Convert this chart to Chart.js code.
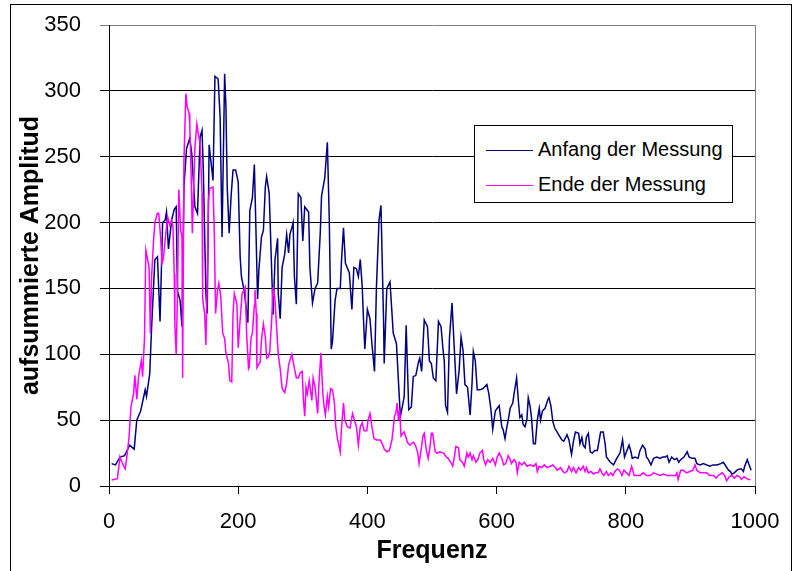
<!DOCTYPE html>
<html>
<head>
<meta charset="utf-8">
<script src="https://cdn.jsdelivr.net/npm/chart.js@4.4.1/dist/chart.umd.min.js"></script>
<style>
  body { margin: 0; background: #fff; }
  #wrap { position: relative; width: 794px; height: 571px; overflow: hidden; }
  #frame { position: absolute; left: 10px; top: 4px; width: 780px; height: 600px; border: 1px solid #000; }
  #chart { position: absolute; left: 0; top: 0; }
  #legend {
    position: absolute; left: 474px; top: 125px; width: 257px; height: 76px;
    border: 1px solid #000; background: #fff;
    font-family: "Liberation Sans", Arial, sans-serif; font-size: 20px; color: #000;
  }
  .row { position: absolute; left: 11px; height: 24px; line-height: 24px; white-space: nowrap; }
  .row span.line { display: inline-block; width: 47px; height: 0; vertical-align: middle; margin-right: 5px; }
</style>
</head>
<body>
<div id="wrap">
  <div id="frame"></div>
  <canvas id="chart" width="794" height="571"></canvas>
  <div id="legend">
    <div class="row" style="top: 11px;"><span class="line" style="border-top: 1.5px solid #000080;"></span>Anfang der Messung</div>
    <div class="row" style="top: 46px;"><span class="line" style="border-top: 1.5px solid #ff00ff;"></span>Ende der Messung</div>
  </div>
</div>
<script>
// Frequenz / Amplitude
const anfangFreq = [4, 10, 17, 24, 32, 39, 43, 49, 56, 58, 63, 66, 71, 75, 79, 83, 87, 89, 92, 97,
  101, 104, 106, 110, 113, 116, 120, 125, 128, 133, 137, 141, 144, 146, 150, 152, 155, 157, 161, 164,
  169, 172, 175, 179, 181, 183, 186, 189, 192, 196, 200, 203, 205, 209, 215, 218, 222, 225, 228, 230,
  232, 236, 239, 242, 244, 248, 252, 254, 257, 261, 262, 265, 268, 272, 275, 278, 280, 283, 285, 287,
  290, 293, 297, 300, 303, 309, 311, 315, 319, 323, 327, 329, 334, 338, 341, 344, 346, 350, 353, 358,
  360, 363, 366, 372, 376, 379, 383, 386, 389, 392, 394, 396, 400, 404, 407, 411, 414, 418, 421, 425,
  426, 430, 435, 440, 445, 448, 451, 454, 457, 460, 462, 464, 468, 471, 475, 479, 481, 484, 488, 493,
  496, 499, 502, 506, 510, 514, 517, 519, 521, 524, 527, 531, 533, 536, 538, 542, 545, 548, 551, 555,
  559, 562, 564, 567, 570, 574, 579, 585, 588, 591, 594, 598, 601, 604, 608, 610, 613, 616, 618, 621,
  625, 627, 631, 634, 636, 639, 641, 644, 647, 649, 652, 654, 657, 660, 663, 666, 668, 671, 675, 679,
  681, 684, 687, 690, 696, 701, 704, 709, 712, 716, 719, 722, 727, 729, 732, 734, 737, 739, 742, 745,
  748, 752, 756, 761, 765, 768, 770, 776, 781, 786, 791, 795, 798, 801, 805, 808, 810, 814, 819, 822,
  826, 830, 832, 835, 839, 843, 848, 853, 857, 861, 864, 867, 871, 875, 879, 882, 885, 890, 895, 898,
  902, 907, 910, 915, 920, 925, 930, 935, 941, 947, 951, 955, 959, 962, 964, 968, 972, 976, 979, 982,
  984, 988, 991, 994];
const anfangAmp = [17, 16, 22, 23, 31, 28, 50, 57, 73, 68, 85, 121, 172, 174, 125, 200, 202, 208, 180, 202,
  210, 212, 148, 141, 121, 227, 256, 264, 253, 212, 207, 265, 270, 240, 146, 131, 259, 250, 232, 311,
  309, 280, 189, 313, 288, 227, 192, 220, 240, 240, 231, 174, 159, 149, 124, 209, 219, 244, 184, 142,
  164, 189, 194, 227, 235, 222, 161, 130, 172, 188, 146, 127, 166, 176, 191, 177, 191, 196, 200, 159,
  138, 222, 219, 186, 212, 208, 166, 139, 150, 154, 192, 220, 234, 261, 202, 104, 110, 141, 150, 150,
  172, 196, 169, 162, 134, 166, 165, 159, 172, 151, 126, 104, 134, 127, 108, 87, 151, 202, 213, 126,
  93, 150, 155, 116, 108, 80, 53, 60, 68, 122, 90, 58, 60, 83, 84, 94, 97, 87, 126, 121,
  95, 93, 82, 80, 125, 121, 104, 95, 61, 56, 112, 139, 119, 90, 70, 88, 113, 103, 77, 75,
  54, 78, 102, 95, 73, 73, 74, 77, 70, 59, 43, 57, 59, 61, 45, 43, 36, 45, 50, 59,
  63, 70, 82, 63, 52, 54, 47, 45, 51, 67, 60, 52, 32, 32, 50, 59, 50, 57, 59, 65,
  67, 61, 49, 44, 39, 35, 34, 39, 35, 24, 34, 41, 40, 32, 37, 31, 29, 37, 40, 26,
  25, 27, 27, 41, 41, 32, 22, 18, 16, 21, 25, 35, 22, 26, 31, 26, 21, 22, 21, 27,
  31, 28, 22, 20, 16, 21, 22, 21, 22, 22, 23, 18, 22, 20, 21, 18, 20, 22, 26, 22,
  21, 21, 17, 16, 17, 16, 15, 16, 16, 17, 18, 15, 12, 11, 9, 10, 12, 13, 13, 11,
  15, 20, 16, 12];

const endeFreq = [4, 13, 17, 20, 25, 27, 31, 34, 38, 40, 43, 46, 50, 52, 55, 57, 59, 62, 64, 66,
  69, 71, 75, 77, 80, 82, 84, 88, 91, 94, 97, 99, 101, 102, 104, 106, 108, 111, 113, 114,
  116, 119, 121, 124, 125, 127, 129, 131, 133, 136, 138, 141, 144, 145, 148, 150, 152, 154, 156, 161,
  163, 165, 168, 170, 173, 176, 179, 181, 185, 187, 190, 192, 194, 198, 200, 203, 206, 211, 213, 216,
  217, 220, 222, 225, 226, 228, 229, 231, 234, 236, 239, 242, 244, 247, 249, 252, 254, 257, 261, 262,
  265, 268, 272, 275, 278, 283, 286, 290, 293, 296, 299, 301, 303, 305, 307, 310, 314, 316, 319, 323,
  325, 328, 331, 333, 335, 338, 340, 343, 346, 349, 351, 354, 358, 360, 363, 365, 369, 373, 377, 380,
  383, 386, 389, 392, 395, 399, 401, 404, 407, 410, 414, 420, 423, 426, 430, 434, 438, 442, 444, 446,
  448, 450, 452, 455, 457, 459, 462, 466, 470, 472, 475, 478, 480, 483, 486, 488, 491, 494, 497, 499,
  501, 505, 508, 512, 518, 522, 525, 529, 532, 535, 537, 541, 543, 547, 550, 554, 556, 559, 562, 564,
  568, 571, 574, 578, 580, 583, 586, 590, 594, 598, 601, 604, 608, 611, 614, 618, 621, 623, 627, 630,
  632, 635, 639, 643, 647, 652, 657, 661, 663, 666, 670, 674, 678, 683, 687, 691, 694, 699, 703, 705,
  709, 712, 716, 719, 723, 727, 730, 734, 737, 739, 742, 746, 750, 753, 757, 760, 763, 766, 770, 773,
  777, 780, 783, 787, 790, 794, 797, 801, 805, 809, 813, 817, 822, 827, 832, 838, 843, 848, 853, 858,
  864, 869, 877, 879, 881, 885, 889, 894, 899, 904, 907, 910, 915, 920, 925, 930, 936, 940, 943, 949,
  953, 956, 960, 964, 968, 972, 976, 979, 983, 986, 990, 993];
const endeAmp = [4.5, 5.6, 22, 18, 13, 19.5, 37, 60, 70, 84, 66, 84, 95, 83, 113, 179, 174, 166, 116, 159,
  187, 200, 207, 207, 188, 169, 172, 192, 204, 198, 202, 197, 161, 121, 100, 146, 225, 194, 189, 82,
  247, 298, 288, 283, 275, 240, 192, 225, 257, 275, 268, 260, 222, 142, 131, 107, 156, 217, 226, 227,
  192, 131, 149, 154, 144, 116, 112, 101, 93, 80, 79, 131, 146, 138, 105, 126, 146, 151, 116, 89,
  90, 113, 116, 137, 149, 131, 90, 92, 94, 111, 123, 113, 97, 98, 103, 128, 151, 141, 108, 100,
  89, 74, 71, 78, 92, 100, 92, 82, 82, 86, 87, 65, 53, 75, 70, 80, 65, 82, 75, 55,
  78, 101, 70, 60, 54, 68, 60, 74, 73, 63, 45, 35, 26, 45, 63, 50, 45, 44, 55, 50,
  45, 31, 45, 48, 42, 42, 50, 55, 45, 36, 35, 35, 32, 28, 26, 27, 35, 53, 55, 63,
  50, 58, 38, 40, 41, 38, 33, 31, 33, 33, 30, 25, 17, 27, 38, 40, 28, 21, 30, 40,
  40, 26, 25, 26, 25, 22, 21, 18, 15, 23, 30, 29, 20, 18, 15, 25, 22, 25, 20, 23,
  18, 20, 25, 27, 20, 16, 20, 18, 21, 16, 22, 25, 21, 16, 17, 23, 20, 17, 20, 18,
  10, 18, 16, 18, 15, 16, 15, 17, 11, 15, 14, 16, 14, 15, 16, 14, 12, 14, 11, 10,
  11, 15, 11, 14, 10, 14, 12, 15, 11, 14, 10, 11, 9, 10, 10, 13, 10, 8, 11, 8,
  10, 8, 11, 13, 12, 8, 12, 10, 8, 15, 8, 8, 8, 10, 8, 8, 10, 9, 8, 9,
  8, 8, 8, 10, 5, 12, 12, 10, 11, 12, 16, 12, 10, 10, 10, 8, 8, 6, 8, 10,
  8, 4, 7, 8, 6, 8, 7, 5, 7, 6, 5, 5];

const yTicks = [0, 50, 100, 150, 200, 250, 300, 350];
const xTicks = [0, 200, 400, 600, 800, 1000];

const FONT = "'Liberation Sans', Arial, sans-serif";

function toPoints(xs, ys) {
  return xs.map((x, i) => ({ x: x, y: ys[i] }));
}

// keep the plot area fixed: no extra room for half labels
function noLabelPadding(s) {
  s.paddingTop = 0;
  s.paddingBottom = 0;
  s.paddingLeft = 0;
  s.paddingRight = 0;
}

new Chart(document.getElementById("chart"), {
  type: "line",
  data: {
    datasets: [
      {
        label: "Anfang der Messung",
        data: toPoints(anfangFreq, anfangAmp),
        borderColor: "#000080",
        borderWidth: 1.5,
        order: 1,
      },
      {
        label: "Ende der Messung",
        data: toPoints(endeFreq, endeAmp),
        borderColor: "#ff00ff",
        borderWidth: 1.5,
        order: 0,
      },
    ],
  },
  options: {
    responsive: false,
    animation: false,
    devicePixelRatio: 1,
    layout: { padding: { top: 25, right: 39, left: 0, bottom: 0 } },
    elements: { point: { radius: 0 }, line: { tension: 0 } },
    plugins: { legend: { display: false }, tooltip: { enabled: false } },
    scales: {
      x: {
        type: "linear",
        min: 0,
        max: 1000,
        afterBuildTicks: (s) => { s.ticks = xTicks.map((v) => ({ value: v })); },
        afterFit: (s) => { s.height = 85; noLabelPadding(s); },
        border: { color: "#000", width: 1 },
        grid: { drawOnChartArea: false, color: "#000", tickLength: 8 },
        ticks: {
          color: "#000",
          font: { family: FONT, size: 22 },
          padding: 15,
          maxRotation: 0,
          callback: (v) => String(v),
        },
        title: { display: true, text: "Frequenz", color: "#000", font: { family: FONT, size: 25, weight: "bold" }, padding: { bottom: 5 } },
      },
      y: {
        min: 0,
        max: 350,
        afterBuildTicks: (s) => { s.ticks = yTicks.map((v) => ({ value: v })); },
        afterFit: (s) => { s.width = 109; noLabelPadding(s); },
        border: { color: "#000", width: 1 },
        grid: {
          color: (c) => (c.tick && c.tick.value === 350 ? "#808080" : "#000"),
          tickLength: 9,
        },
        ticks: { color: "#000", font: { family: FONT, size: 22 }, padding: 19, callback: (v) => String(v) },
        title: { display: true, text: "aufsummierte Amplitud", color: "#000", font: { family: FONT, size: 25, weight: "bold" }, padding: { top: 16 } },
      },
    },
  },
  plugins: [
    {
      // grey frame on the right side of the plot area
      id: "rightEdge",
      afterDraw(chart) {
        const a = chart.chartArea;
        const ctx = chart.ctx;
        ctx.save();
        ctx.strokeStyle = "#808080";
        ctx.lineWidth = 1;
        ctx.beginPath();
        ctx.moveTo(Math.round(a.right) + 0.5, a.top);
        ctx.lineTo(Math.round(a.right) + 0.5, a.bottom);
        ctx.stroke();
        ctx.restore();
      },
    },
  ],
});
</script>
</body>
</html>
